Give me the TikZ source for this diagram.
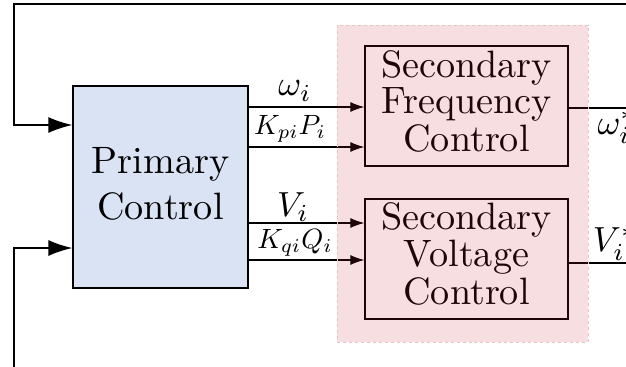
\documentclass[tikz,border=0pt]{standalone}
\usepackage{fontspec}
\usetikzlibrary{arrows.meta}
\definecolor{primfill}{RGB}{218,227,243}
\definecolor{secshade}{RGB}{200,40,55}
\definecolor{secedge}{RGB}{232,196,200}
\newcommand{\bigtext}[2][12pt]{\scalebox{3.83}{\fontsize{10pt}{#1}\selectfont
  \begin{tabular}{@{}c@{}}#2\end{tabular}}}
\newcommand{\siglab}[1]{\scalebox{3.5}{$#1$}}
\newcommand{\gainlab}[1]{\scalebox{2.8}{$#1$}}
\tikzset{
  block/.style={draw=black, line width=1.3bp, inner sep=0pt, align=center},
  sig/.style={line width=1.1bp, -{Latex[length=14bp,width=10bp]}},
  feed/.style={line width=1.6bp, -{Latex[length=24bp,width=16bp]}},
  outline/.style={line width=1.6bp},
  lab/.style={inner sep=0pt}
}
\begin{document}
\begin{tikzpicture}[x=1bp, y=-1bp]
\useasboundingbox (0,0) rectangle (626,366);

% primary controller
\node[block, fill=primfill, minimum width=175bp, minimum height=202bp]
  (prim) at (160.5,187) {\bigtext{Primary\\Control}};

% secondary controllers
\node[block, minimum width=203bp, minimum height=120bp]
  (sfc) at (466.5,106) {\bigtext[9.3pt]{Secondary\\Frequency\\Control}};
\node[block, minimum width=203bp, minimum height=120bp]
  (svc) at (466.5,259) {\bigtext[9.3pt]{Secondary\\Voltage\\Control}};

% feedback loops into the primary controller
\coordinate (topend) at (640,4);
\coordinate (botend) at (14,375);
\draw[feed] (topend) -- (14,4) -- (14,125) -- (prim.west |- 0,125);
\draw[feed] (botend) -- (14,248) -- (prim.west |- 0,248);

% measured signals
\draw[sig] (prim.east |- 0,107) -- (sfc.west |- 0,107);
\draw[sig] (prim.east |- 0,147) -- (sfc.west |- 0,147);
\draw[sig] (prim.east |- 0,223) -- (svc.west |- 0,223);
\draw[sig] (prim.east |- 0,260) -- (svc.west |- 0,260);
\node[lab] (lw) at (295,91) {\siglab{\omega_i}};
\node[lab] (lp) at (290,129) {\gainlab{K_{pi}P_i}};
\node[lab] (lv) at (293,207) {\siglab{V_i}};
\node[lab] (lq) at (295,243) {\gainlab{K_{qi}Q_i}};

% references produced by the secondary layer
\coordinate (wout) at (640,108);
\coordinate (vout) at (640,263);
\draw[outline] (sfc.east |- wout) -- (wout);
\draw[outline] (svc.east |- vout) -- (vout);
\node[lab] (lws) at (617,127) {\siglab{\omega_i^*}};
\node[lab] (lvs) at (615,244) {\siglab{V_i^*}};

% shaded secondary-control layer
\node[draw=secedge, dashed, line width=0.6bp, fill=secshade, fill opacity=0.15,
  minimum width=251bp, minimum height=317bp, inner sep=0pt]
  (layer) at (462.5,183.5) {};
\end{tikzpicture}
\end{document}
